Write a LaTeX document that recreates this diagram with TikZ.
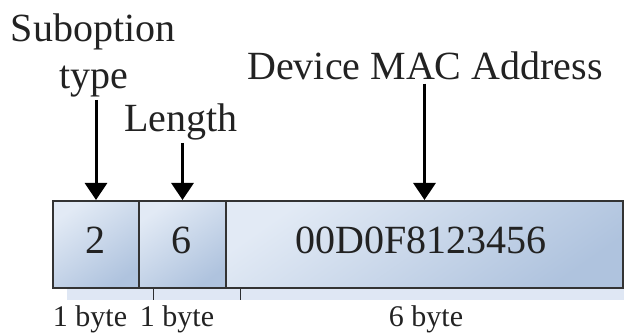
\documentclass[tikz,border=0pt]{standalone}
\usepackage{fontspec}
\setmainfont{Liberation Serif}
\usetikzlibrary{arrows.meta}
\definecolor{txt}{HTML}{222222}
\definecolor{edge}{HTML}{333333}
\definecolor{fillA}{HTML}{E2EAF5}
\definecolor{fillB}{HTML}{AFC3DE}
\definecolor{shade}{HTML}{C9D7EC}
\tikzset{
  field/.style={draw=edge, line width=2pt, top color=fillA, bottom color=fillB, shading angle=35, inner sep=0pt},
  shadowbox/.style={fill=shade, opacity=0.6, draw=none},
  big/.style={font=\fontsize{40}{44}\selectfont, text=txt, inner sep=0pt, anchor=base},
  small/.style={font=\fontsize{30}{34}\selectfont, text=txt, inner sep=0pt, anchor=base},
  pointer/.style={line width=3pt, draw=black, -{Triangle[width=22pt,length=17pt]}},
}
\begin{document}
\begin{tikzpicture}[x=1pt,y=-1pt]
\useasboundingbox (0,0) rectangle (624,336);
% shadows
\fill[shadowbox] (67,213) rectangle (638,300);
\draw[shade, line width=1pt, opacity=0.8] (153,213) -- (153,300) (240,213) -- (240,300);
% fields
\node[field, minimum width=86pt, minimum height=87pt, anchor=north west] (f1) at (52,200) {};
\node[field, minimum width=87pt, minimum height=87pt, anchor=north west] (f2) at (138,200) {};
\node[field, minimum width=397pt, minimum height=87pt, anchor=north west] (f3) at (225,200) {};
% field values
\node[big] (v1) at (95,254) {2};
\node[big] (v2) at (181.5,254) {6};
\node[big] (v3) at (421,254) {00D0F8123456};
% top labels
\node[big] (sub) at (93,42) {Suboption};
\node[big, inner sep=2pt] (typ) at (94,89) {type};
\node[big, inner sep=2pt] (len) at (181,132) {Length};
\node[big, inner sep=3pt] (dev) at (425,80) {Device MAC Address};
% sizes
\node[small] (s1) at (90,327) {1 byte};
\node[small] (s2) at (177,327) {1 byte};
\node[small] (s3) at (426,327) {6 byte};
% pointers
\draw[pointer] (f1.north |- typ.south) -- (f1.north);
\draw[pointer] (f2.north |- len.south) -- (f2.north);
\draw[pointer] (f3.north |- dev.south) -- (f3.north);
\end{tikzpicture}
\end{document}
